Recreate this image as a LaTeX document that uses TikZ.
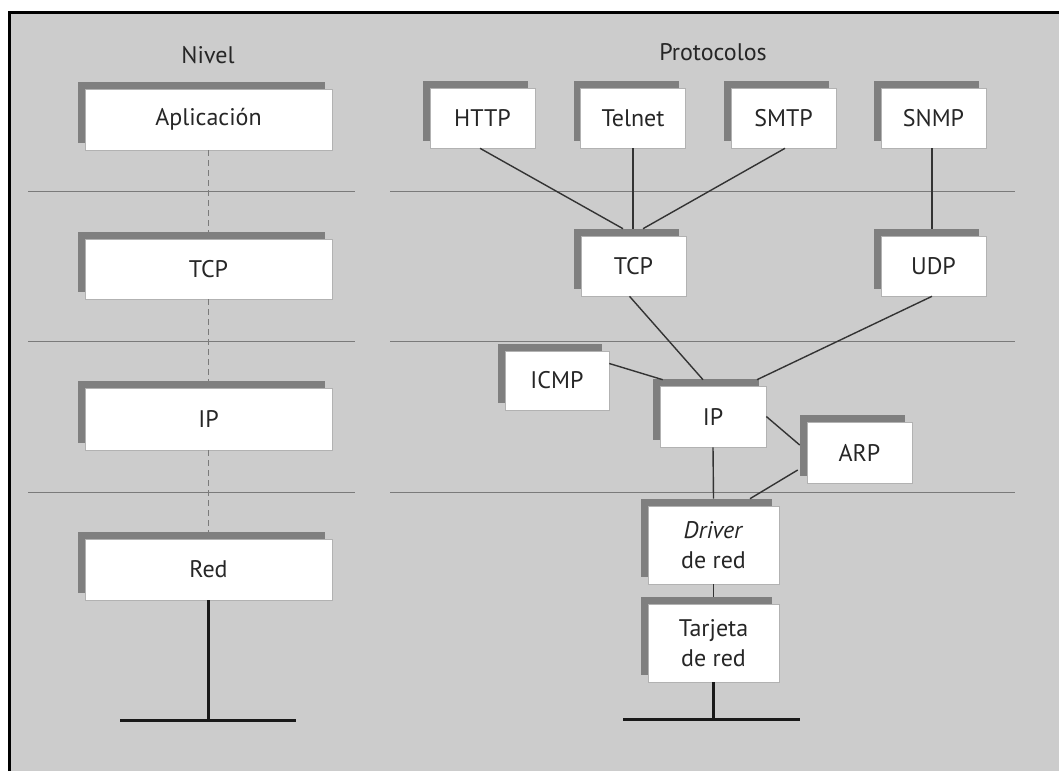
\documentclass[tikz,border=0pt]{standalone}
\usepackage{fontspec}
\setmainfont{PT Sans}
\usetikzlibrary{shadows}
\definecolor{bggray}{HTML}{CCCCCC}
\definecolor{shgray}{HTML}{7F7F7F}
\definecolor{lngray}{HTML}{333333}
\definecolor{sepgray}{HTML}{7A7A7A}
\begin{document}
\begin{tikzpicture}[x=1pt,y=-1pt,
  box/.style={draw=gray!60,line width=0.6pt,fill=white,inner sep=0pt,
    text=black!85,font=\fontsize{24}{30}\selectfont,align=center,
    drop shadow={shadow xshift=-7pt,shadow yshift=7pt,fill=shgray,opacity=1,draw=none}},
  conn/.style={draw=lngray,line width=1.4pt},
  sep/.style={draw=sepgray,line width=0.9pt},
  net/.style={draw=black!90,line width=3pt},
  title/.style={font=\fontsize{24}{28}\selectfont,text=black!85}]
\useasboundingbox (0,0) rectangle (1059,771);
\fill[white] (0,0) rectangle (1059,771);
\fill[bggray] (9,12) rectangle (1059,771);
\draw[black,line width=3pt] (9,771) -- (9,12) -- (1059,12);

% separators
\draw[sep] (28,191) -- (355,191);
\draw[sep] (28,341) -- (355,341);
\draw[sep] (28,492) -- (355,492);
\draw[sep] (390,191) -- (1015,191);
\draw[sep] (390,341) -- (1015,341);
\draw[sep] (390,492) -- (1015,492);

% titles
\node[title] (tnivel) at (208,55) {Nivel};
\node[title] (tproto) at (713,52) {Protocolos};

% left column
\node[box,minimum width=247pt,minimum height=61pt] (apl) at (208.5,119.5) {Aplicación};
\node[box,minimum width=247pt,minimum height=60pt] (ltcp) at (208.5,269) {TCP};
\node[box,minimum width=247pt,minimum height=62pt] (lip) at (208.5,419) {IP};
\node[box,minimum width=247pt,minimum height=61pt] (lred) at (208.5,569.5) {Red};
\tikzset{lvl/.style={draw=sepgray,line width=0.9pt,dash pattern=on 6pt off 4pt}}
\draw[lvl] (apl.south) -- ([yshift=7pt]ltcp.north);
\draw[lvl] (ltcp.south) -- ([yshift=7pt]lip.north);
\draw[lvl] (lip.south) -- ([yshift=7pt]lred.north);
\coordinate (lnet) at (208.5,720);
\coordinate (lnetl) at (120,720);
\coordinate (lnetr) at (296,720);
\draw[net] (lred.south) -- (lnet);
\draw[net] (lnetl) -- (lnetr);

% right column
\node[box,minimum width=105pt,minimum height=60pt] (http) at (482.5,118) {HTTP};
\node[box,minimum width=105pt,minimum height=60pt] (telnet) at (633,118) {Telnet};
\node[box,minimum width=105pt,minimum height=60pt] (smtp) at (783.5,118) {SMTP};
\node[box,minimum width=105pt,minimum height=60pt] (snmp) at (933.5,118) {SNMP};
\node[box,minimum width=105pt,minimum height=60pt] (rtcp) at (633.5,266) {TCP};
\node[box,minimum width=105pt,minimum height=60pt] (udp) at (933.5,266) {UDP};
\node[box,minimum width=104pt,minimum height=59pt] (icmp) at (557,380.5) {ICMP};
\node[box,minimum width=106pt,minimum height=61pt] (rip) at (713,416.5) {IP};
\node[box,minimum width=105pt,minimum height=61pt] (arp) at (859.5,452.5) {ARP};
\node[box,minimum width=131pt,minimum height=78pt] (drv) at (713.5,545) {\textit{Driver}\\de red};
\node[box,minimum width=131pt,minimum height=78pt] (tarj) at (713.5,643) {Tarjeta\\de red};

% connectors
\draw[conn] ([xshift=-2.5pt]http.south) -- ([xshift=-10.5pt,yshift=7pt]rtcp.north);
\draw[conn] (telnet.south) -- ([xshift=-0.5pt,yshift=7pt]rtcp.north);
\draw[conn] ([xshift=1.5pt]smtp.south) -- ([xshift=9.5pt,yshift=7pt]rtcp.north);
\draw[conn] ([xshift=-1.5pt]snmp.south) -- ([xshift=-1.5pt,yshift=7pt]udp.north);
\draw[conn] ([xshift=-4pt]rtcp.south) -- ([xshift=-10pt,yshift=6pt]rip.north);
\draw[conn] ([xshift=-1.5pt]udp.south) -- ([xshift=44pt,yshift=6pt]rip.north);
\draw[conn] ([yshift=17pt]icmp.east) -- ([xshift=3pt,yshift=6pt]rip.north west);
\draw[conn] ([yshift=0pt]rip.east) -- ([xshift=-7pt,yshift=7.5pt]arp.west);
\draw[conn] (rip.south) -- ([yshift=7pt]drv.north);
\draw[conn] ([xshift=-9pt,yshift=-17.5pt]arp.west) -- ([xshift=36.5pt,yshift=7pt]drv.north);
\draw[conn] (drv.south) -- ([yshift=7pt]tarj.north);
\coordinate (rnet) at (713.5,719);
\coordinate (rnetl) at (623,719);
\coordinate (rnetr) at (800,719);
\draw[net] (tarj.south) -- (rnet);
\draw[net] (rnetl) -- (rnetr);
\end{tikzpicture}
\end{document}
